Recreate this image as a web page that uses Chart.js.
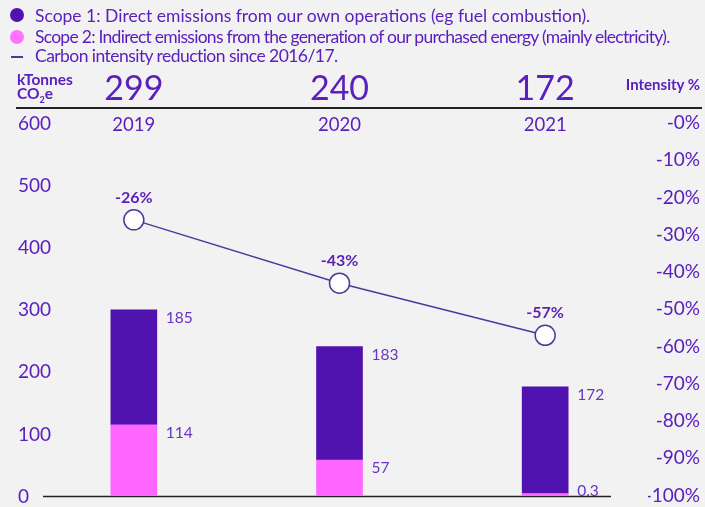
<!DOCTYPE html>
<html><head><meta charset="utf-8">
<script src="https://cdn.jsdelivr.net/npm/chart.js@4/dist/chart.umd.min.js"></script>
<style>
html,body{margin:0;padding:0;background:#f2f2f2;}
#wrap{position:relative;width:705px;height:507px;overflow:hidden;font-family:Lato,"Open Sans",sans-serif;color:#5a20bd;}
canvas{position:absolute;left:0;top:0;}
.leg{position:absolute;left:0;font-size:17.5px;white-space:nowrap;}
.dot{position:absolute;width:14px;height:14px;border-radius:7px;}
.hd{position:absolute;font-weight:bold;font-size:15.5px;line-height:15px;}
#rule{position:absolute;left:16px;top:107px;width:686px;height:2px;background:#222;}
</style></head><body>
<div id="wrap">
<canvas id="c" width="705" height="507"></canvas>
<div class="dot" style="left:10px;top:8px;background:#5113b0"></div>
<div class="leg" style="left:35px;top:5px;">Scope 1: Direct emissions from our own operations (eg fuel combustion).</div>
<div class="dot" style="left:10px;top:30px;background:#ff73ff"></div>
<div class="leg" style="left:35px;top:26px;letter-spacing:-0.73px">Scope 2: Indirect emissions from the generation of our purchased energy (mainly electricity).</div>
<div style="position:absolute;left:11px;top:56px;width:12px;height:2px;background:#4b3a9a"></div>
<div class="leg" style="left:35px;top:45px;letter-spacing:-0.55px">Carbon intensity reduction since 2016/17.</div>
<div class="hd" style="left:17px;top:72px;">kTonnes</div>
<div class="hd" style="left:17px;top:86px;">CO<sub style="font-size:9px;line-height:0">2</sub>e</div>
<div class="hd" style="right:5px;top:77px;font-size:15px">Intensity %</div>
<div id="rule"></div>
</div>
<script>
const years = ['2019','2020','2021'];
const scope1 = [185, 183, 172];
const scope2 = [114, 57, 0.3];
const scope1Labels = ['185','183','172'];
const scope2Labels = ['114','57','0.3'];
const intensity = [-26, -43, -57];
const intensityLabels = ['-26%','-43%','-57%'];
const totals = scope1.map((v,i)=>Math.round(v+scope2[i]));

const TXT = '#5a20bd';
const FONT = 'Lato, "Open Sans", sans-serif';

const deco = {
  id:'deco',
  afterDatasetsDraw(chart){
    const ctx = chart.ctx, x = chart.scales.x, y = chart.scales.y, ca = chart.chartArea;
    ctx.save();
    // baseline
    ctx.strokeStyle = '#222'; ctx.lineWidth = 1.5;
    ctx.beginPath(); ctx.moveTo(ca.left+12, ca.bottom+1); ctx.lineTo(ca.right-37, ca.bottom+1); ctx.stroke();
    // left axis tick labels
    ctx.fillStyle = TXT; ctx.textAlign='left'; ctx.textBaseline='middle';
    ctx.font = '19px '+FONT;
    y.ticks.forEach(t=>{ ctx.fillText(String(t.value), 18, y.getPixelForValue(t.value) + 1); });
    ctx.textAlign='center';
    years.forEach((yr,i)=>{
      const px = x.getPixelForValue(i);
      ctx.font = '34px '+FONT; ctx.fillText(String(totals[i]), px, 89);
      ctx.font = '18.5px '+FONT; ctx.fillText(yr, px, 125);
    });
    // bar labels
    ctx.textAlign='left'; ctx.font = '15.5px '+FONT; ctx.fillStyle = '#6a35c4';
    [[0,scope2Labels],[1,scope1Labels]].forEach(([di,labs])=>{
      chart.getDatasetMeta(di).data.forEach((b,i)=>{
        ctx.fillText(labs[i], b.x + b.width/2 + 9, Math.min(b.y + 8, b.base - 5));
      });
    });
    // line labels
    ctx.textAlign='center'; ctx.font = 'bold 16px '+FONT; ctx.fillStyle = '#5a1fb4';
    chart.getDatasetMeta(2).data.forEach((p,i)=>{
      ctx.fillText(intensityLabels[i], p.x, p.y - 22);
    });
    ctx.restore();
  }
};

new Chart(document.getElementById('c'), {
  data:{
    labels: years,
    datasets:[
      {type:'bar', label:'Scope 2', data:scope2, backgroundColor:'#ff66ff', barThickness:46, minBarLength:2, yAxisID:'y', order:2},
      {type:'bar', label:'Scope 1', data:scope1, backgroundColor:'#5113b0', barThickness:46, yAxisID:'y', order:2},
      {type:'line', label:'Intensity', data:intensity, yAxisID:'yR', borderColor:'#4b3a9a', borderWidth:1.5,
       pointRadius:10, pointBackgroundColor:'#ffffff', pointBorderColor:'#4b3a9a', pointBorderWidth:1.5, order:1, tension:0}
    ]
  },
  options:{
    responsive:false, animation:false,
    layout:{padding:{top:123,bottom:11,left:31,right:5}},
    plugins:{legend:{display:false},tooltip:{enabled:false}},
    scales:{
      x:{display:false, stacked:true},
      y:{stacked:true, min:0, max:600, position:'left', display:false,
         ticks:{stepSize:100}},
      yR:{min:-100, max:0, position:'right',
         afterFit(s){s.width=52;},
         grid:{display:false}, border:{display:false},
         ticks:{stepSize:10, crossAlign:'far', padding:0, color:TXT, font:{size:19,family:FONT},
                callback:(v)=>'-'+Math.abs(v)+'%'}}
    }
  },
  plugins:[deco]
});
</script>
</body></html>
